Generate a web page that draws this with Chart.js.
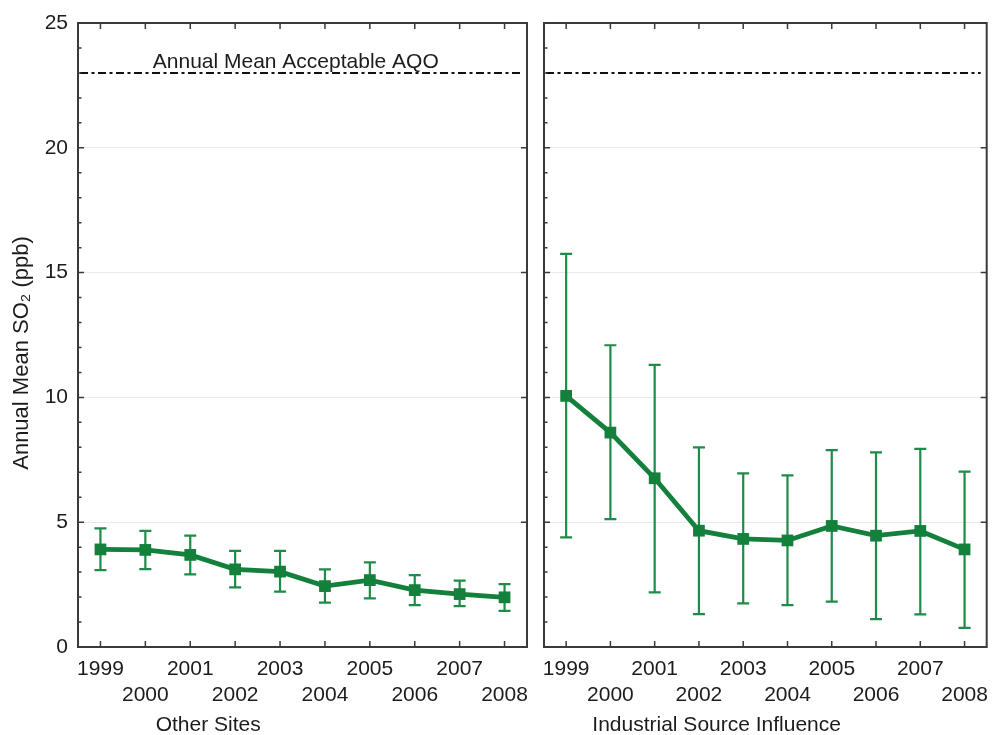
<!DOCTYPE html>
<html>
<head>
<meta charset="utf-8">
<script src="https://cdn.jsdelivr.net/npm/chart.js@4.4.1/dist/chart.umd.min.js"></script>
<style>
  html, body { margin: 0; padding: 0; background: #fff; }
  #wrap { position: relative; width: 995px; height: 735px; overflow: hidden; background: #fff; }
  canvas { position: absolute; top: 0; left: 0; }
</style>
</head>
<body>
<div id="wrap">
  <canvas id="left" width="995" height="735"></canvas>
  <canvas id="right" width="995" height="735"></canvas>
</div>
<script>
// Annual mean SO2 (ppb) with confidence limits, 1999-2008
const years = ['1999', '2000', '2001', '2002', '2003', '2004', '2005', '2006', '2007', '2008'];

const otherMean = [3.91, 3.89, 3.69, 3.11, 3.02, 2.44, 2.68, 2.28, 2.12, 1.99];
const otherHigh = [4.75, 4.65, 4.46, 3.85, 3.85, 3.11, 3.39, 2.88, 2.66, 2.52];
const otherLow  = [3.08, 3.12, 2.91, 2.39, 2.22, 1.78, 1.95, 1.68, 1.64, 1.45];

const industrialMean = [10.06, 8.59, 6.76, 4.66, 4.33, 4.27, 4.85, 4.46, 4.65, 3.91];
const industrialHigh = [15.75, 12.09, 11.30, 8.00, 6.96, 6.88, 7.89, 7.80, 7.94, 7.03];
const industrialLow  = [4.39, 5.12, 2.19, 1.32, 1.75, 1.68, 1.82, 1.12, 1.31, 0.77];

const aqoLevel = 23;
const aqoLabel = 'Annual Mean Acceptable AQO';
const yTicksMajor = [0, 5, 10, 15, 20, 25];
const yTitle = 'Annual Mean SO\u2082 (ppb)';

const FONT = '"Liberation Sans", Arial, Helvetica, sans-serif';
const GREEN = '#13803b';
const BAR_GREEN = '#1e8b48';
const FRAME = '#3a3a3a';
const TEXT = '#1c1c1c';

// Frame, inner tick marks, error bars, reference line and captions
const panelDecor = {
  id: 'panelDecor',
  beforeDatasetsDraw(chart, args, opts) {
    const { ctx } = chart;
    const x = chart.scales.x, y = chart.scales.y;
    ctx.save();
    ctx.strokeStyle = BAR_GREEN;
    ctx.lineWidth = 2.2;
    opts.high.forEach((hi, i) => {
      const px = x.getPixelForValue(i);
      const pyH = y.getPixelForValue(hi);
      const pyL = y.getPixelForValue(opts.low[i]);
      ctx.beginPath();
      ctx.moveTo(px, pyH); ctx.lineTo(px, pyL);
      ctx.moveTo(px - 6, pyH); ctx.lineTo(px + 6, pyH);
      ctx.moveTo(px - 6, pyL); ctx.lineTo(px + 6, pyL);
      ctx.stroke();
    });
    ctx.restore();
  },
  afterDraw(chart, args, opts) {
    const { ctx, chartArea: a } = chart;
    const x = chart.scales.x, y = chart.scales.y;
    ctx.save();

    // reference level
    const pyA = y.getPixelForValue(opts.aqo);
    ctx.strokeStyle = '#111';
    ctx.lineWidth = 2;
    ctx.setLineDash([8, 3.5, 3, 3.5]);
    ctx.beginPath();
    ctx.moveTo(a.left + 2, pyA); ctx.lineTo(a.right - 6, pyA);
    ctx.stroke();
    ctx.setLineDash([]);
    if (opts.aqoText) {
      ctx.fillStyle = TEXT;
      ctx.font = '21px ' + FONT;
      ctx.textAlign = 'center';
      ctx.textBaseline = 'alphabetic';
      ctx.fillText(opts.aqoText, a.left + a.width * opts.aqoTextPos, pyA - 5);
    }

    // frame
    ctx.strokeStyle = FRAME;
    ctx.lineWidth = 2;
    ctx.strokeRect(a.left, a.top, a.width, a.height);

    // inner ticks
    ctx.lineWidth = 1.5;
    ctx.beginPath();
    for (let v = 0; v <= 25; v++) {
      const py = y.getPixelForValue(v);
      const len = v % 5 === 0 ? 6 : 3.5;
      ctx.moveTo(a.left, py); ctx.lineTo(a.left + len, py);
      if (v % 5 === 0) { ctx.moveTo(a.right, py); ctx.lineTo(a.right - 6, py); }
    }
    years.forEach((_, i) => {
      const px = x.getPixelForValue(i);
      ctx.moveTo(px, a.top); ctx.lineTo(px, a.top + 6);
      ctx.moveTo(px, a.bottom); ctx.lineTo(px, a.bottom - 6);
    });
    ctx.stroke();

    // captions
    ctx.fillStyle = TEXT;
    ctx.font = '21px ' + FONT;
    ctx.textAlign = 'center';
    ctx.textBaseline = 'middle';
    ctx.fillText(opts.caption, a.left + a.width * opts.captionPos, 725);
    if (opts.yTitle) {
      ctx.translate(22, 353);
      ctx.rotate(-Math.PI / 2);
      ctx.font = '22px ' + FONT;
      ctx.fillText(opts.yTitle, 0, 0);
    }
    ctx.restore();
  }
};

function panel(canvasId, mean, low, high, cfg) {
  return new Chart(document.getElementById(canvasId), {
    type: 'line',
    data: {
      labels: years,
      datasets: [{
        data: mean,
        borderColor: GREEN,
        backgroundColor: GREEN,
        borderWidth: 4.8,
        pointStyle: 'rect',
        pointRadius: 8.3,
        pointBorderWidth: 0,
        pointBackgroundColor: GREEN,
        tension: 0,
        clip: false
      }]
    },
    options: {
      responsive: false,
      animation: false,
      devicePixelRatio: 1,
      layout: { padding: { left: 0, right: cfg.padRight, top: 23, bottom: 0 } },
      plugins: {
        legend: { display: false },
        tooltip: { enabled: false },
        panelDecor: {
          low: low, high: high, aqo: aqoLevel,
          aqoText: cfg.aqoText, aqoTextPos: 0.485,
          caption: cfg.caption, captionPos: cfg.captionPos,
          yTitle: cfg.yTitle
        }
      },
      scales: {
        x: {
          type: 'category',
          offset: true,
          grid: { display: false, drawTicks: false },
          border: { display: false },
          ticks: {
            autoSkip: false,
            maxRotation: 0,
            padding: 10,
            color: TEXT,
            font: { family: FONT, size: 21, lineHeight: 1.2 },
            callback: (v, i) => (i % 2 === 0 ? [years[i], ''] : ['', years[i]])
          },
          afterFit: s => { s.height = 88; s.paddingLeft = 0; s.paddingRight = 0; }
        },
        y: {
          min: 0, max: 25,
          grid: {
            drawTicks: false,
            lineWidth: 1,
            color: c => (c.tick.value % 5 === 0 && c.tick.value > 0 && c.tick.value < 25) ? '#e9e9e9' : 'rgba(0,0,0,0)'
          },
          border: { display: false },
          ticks: {
            stepSize: 1,
            autoSkip: false,
            display: cfg.showYLabels,
            padding: 10,
            color: TEXT,
            font: { family: FONT, size: 21 },
            callback: v => (yTicksMajor.includes(v) ? String(v) : '')
          },
          afterFit: s => { s.width = cfg.yWidth; }
        }
      }
    },
    plugins: [panelDecor]
  });
}

panel('left', otherMean, otherLow, otherHigh, {
  padRight: 468, yWidth: 78, showYLabels: true,
  aqoText: aqoLabel, caption: 'Other Sites', captionPos: 0.29, yTitle: yTitle
});
panel('right', industrialMean, industrialLow, industrialHigh, {
  padRight: 4, yWidth: 544, showYLabels: false,
  aqoText: null, caption: 'Industrial Source Influence', captionPos: 0.39, yTitle: null
});
</script>
</body>
</html>
